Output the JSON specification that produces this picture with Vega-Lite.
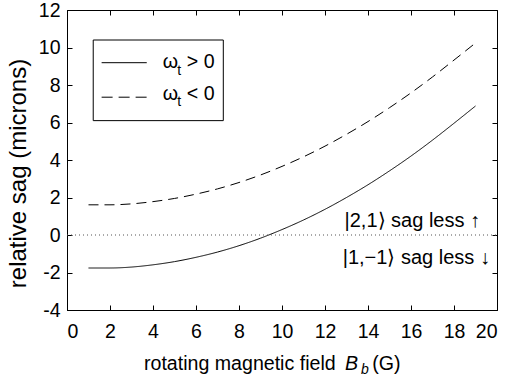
{
  "$schema": "https://vega.github.io/schema/vega-lite/v6.json",
  "width": 430,
  "height": 300,
  "autosize": "none",
  "padding": {"left": 67, "top": 10, "right": 11, "bottom": 72},
  "background": "white",
  "config": {
    "font": "Liberation Sans",
    "view": {"stroke": "black", "strokeWidth": 1},
    "axis": {
      "domainColor": "black",
      "tickColor": "black",
      "tickSize": -5,
      "labelColor": "black",
      "labelFont": "Liberation Sans",
      "labelFontSize": 19.5,
      "titleFont": "Liberation Sans",
      "titleFontSize": 24,
      "titleFontWeight": "normal",
      "titleColor": "black",
      "grid": false,
      "labelExpr": "'' + datum.value"
    },
    "text": {"font": "Liberation Sans", "fontSize": 19.6, "color": "black"}
  },
  "data": {
    "values": [
      {"B": 1, "sag": -1.76, "series": "ω_t > 0"},
      {"B": 2, "sag": -1.76, "series": "ω_t > 0"},
      {"B": 3, "sag": -1.71, "series": "ω_t > 0"},
      {"B": 4, "sag": -1.59, "series": "ω_t > 0"},
      {"B": 5, "sag": -1.42, "series": "ω_t > 0"},
      {"B": 6, "sag": -1.19, "series": "ω_t > 0"},
      {"B": 7, "sag": -0.91, "series": "ω_t > 0"},
      {"B": 8, "sag": -0.57, "series": "ω_t > 0"},
      {"B": 9, "sag": -0.17, "series": "ω_t > 0"},
      {"B": 10, "sag": 0.29, "series": "ω_t > 0"},
      {"B": 11, "sag": 0.8, "series": "ω_t > 0"},
      {"B": 12, "sag": 1.37, "series": "ω_t > 0"},
      {"B": 13, "sag": 2.0, "series": "ω_t > 0"},
      {"B": 14, "sag": 2.68, "series": "ω_t > 0"},
      {"B": 15, "sag": 3.42, "series": "ω_t > 0"},
      {"B": 16, "sag": 4.21, "series": "ω_t > 0"},
      {"B": 17, "sag": 5.06, "series": "ω_t > 0"},
      {"B": 18, "sag": 5.96, "series": "ω_t > 0"},
      {"B": 19, "sag": 6.88, "series": "ω_t > 0"},
      {"B": 1, "sag": 1.61, "series": "ω_t < 0"},
      {"B": 2, "sag": 1.61, "series": "ω_t < 0"},
      {"B": 3, "sag": 1.66, "series": "ω_t < 0"},
      {"B": 4, "sag": 1.78, "series": "ω_t < 0"},
      {"B": 5, "sag": 1.95, "series": "ω_t < 0"},
      {"B": 6, "sag": 2.18, "series": "ω_t < 0"},
      {"B": 7, "sag": 2.46, "series": "ω_t < 0"},
      {"B": 8, "sag": 2.8, "series": "ω_t < 0"},
      {"B": 9, "sag": 3.2, "series": "ω_t < 0"},
      {"B": 10, "sag": 3.66, "series": "ω_t < 0"},
      {"B": 11, "sag": 4.17, "series": "ω_t < 0"},
      {"B": 12, "sag": 4.74, "series": "ω_t < 0"},
      {"B": 13, "sag": 5.37, "series": "ω_t < 0"},
      {"B": 14, "sag": 6.05, "series": "ω_t < 0"},
      {"B": 15, "sag": 6.79, "series": "ω_t < 0"},
      {"B": 16, "sag": 7.58, "series": "ω_t < 0"},
      {"B": 17, "sag": 8.43, "series": "ω_t < 0"},
      {"B": 18, "sag": 9.33, "series": "ω_t < 0"},
      {"B": 19, "sag": 10.24, "series": "ω_t < 0"}
    ]
  },
  "layer": [
    {
      "mark": {"type": "line", "interpolate": "monotone", "color": "black", "strokeWidth": 1},
      "encoding": {
        "x": {"field": "B", "type": "quantitative", "scale": {"domain": [0, 20], "nice": false},
              "axis": {"orient": "bottom", "values": [0,2,4,6,8,10,12,14,16,18,20], "title": null, "labelPadding": 17}},
        "y": {"field": "sag", "type": "quantitative", "scale": {"domain": [-4, 12], "nice": false},
              "axis": {"orient": "left", "values": [-4,-2,0,2,4,6,8,10,12], "title": "relative sag (microns)", "labelPadding": 12,
                       "titleX": -42, "titleY": 163, "titleBaseline": "alphabetic", "titleAlign": "center", "titleAngle": -90}},
        "strokeDash": {"field": "series", "type": "nominal", "legend": null,
              "scale": {"domain": ["ω_t > 0", "ω_t < 0"], "range": [[1, 0], [10, 6]]}},
        "detail": {"field": "series"}
      }
    },
    {
      "data": {"values": [{}]},
      "mark": {"type": "rule", "color": "#555", "strokeDash": [1, 3], "strokeWidth": 1},
      "encoding": {
        "x": {"datum": 0, "type": "quantitative", "axis": {"orient": "top", "values": [0,2,4,6,8,10,12,14,16,18,20], "labels": false, "title": null, "domain": false}},
        "x2": {"datum": 20},
        "y": {"datum": 0, "type": "quantitative", "axis": {"orient": "right", "values": [-4,-2,0,2,4,6,8,10,12], "labels": false, "title": null, "domain": false}}
      }
    },
    {
      "data": {"values": [{}]},
      "mark": {"type": "rect", "fill": "white", "stroke": "black", "strokeWidth": 1},
      "encoding": {
        "x": {"datum": 1.22, "type": "quantitative", "axis": null},
        "x2": {"datum": 7.27},
        "y": {"datum": 10.4, "type": "quantitative", "axis": null},
        "y2": {"datum": 6.1}
      }
    },
    {
      "data": {"values": [{}]},
      "mark": {"type": "rule", "color": "black", "strokeWidth": 1},
      "encoding": {
        "x": {"datum": 1.61, "type": "quantitative", "axis": null},
        "x2": {"datum": 3.71},
        "y": {"datum": 9.19, "type": "quantitative", "axis": null}
      }
    },
    {
      "data": {"values": [{}]},
      "mark": {"type": "rule", "color": "black", "strokeWidth": 1, "strokeDash": [11, 6]},
      "encoding": {
        "x": {"datum": 1.61, "type": "quantitative", "axis": null},
        "x2": {"datum": 3.71},
        "y": {"datum": 7.35, "type": "quantitative", "axis": null}
      }
    },
    {
      "data": {"values": [{}]},
      "mark": {"type": "text", "align": "left", "baseline": "alphabetic", "text": "ω"},
      "encoding": {"x": {"datum": 4.45, "type": "quantitative", "axis": null}, "y": {"datum": 8.9, "type": "quantitative", "axis": null}}
    },
    {
      "data": {"values": [{}]},
      "mark": {"type": "text", "align": "left", "baseline": "alphabetic", "text": "t", "fontSize": 14},
      "encoding": {"x": {"datum": 5.13, "type": "quantitative", "axis": null}, "y": {"datum": 8.56, "type": "quantitative", "axis": null}}
    },
    {
      "data": {"values": [{}]},
      "mark": {"type": "text", "align": "left", "baseline": "alphabetic", "text": "> 0"},
      "encoding": {"x": {"datum": 5.57, "type": "quantitative", "axis": null}, "y": {"datum": 8.9, "type": "quantitative", "axis": null}}
    },
    {
      "data": {"values": [{}]},
      "mark": {"type": "text", "align": "left", "baseline": "alphabetic", "text": "ω"},
      "encoding": {"x": {"datum": 4.45, "type": "quantitative", "axis": null}, "y": {"datum": 7.21, "type": "quantitative", "axis": null}}
    },
    {
      "data": {"values": [{}]},
      "mark": {"type": "text", "align": "left", "baseline": "alphabetic", "text": "t", "fontSize": 14},
      "encoding": {"x": {"datum": 5.13, "type": "quantitative", "axis": null}, "y": {"datum": 6.88, "type": "quantitative", "axis": null}}
    },
    {
      "data": {"values": [{}]},
      "mark": {"type": "text", "align": "left", "baseline": "alphabetic", "text": "< 0"},
      "encoding": {"x": {"datum": 5.57, "type": "quantitative", "axis": null}, "y": {"datum": 7.21, "type": "quantitative", "axis": null}}
    },
    {
      "data": {"values": [{}]},
      "mark": {"type": "text", "align": "right", "baseline": "alphabetic", "text": "|2,1⟩ sag less ↑", "fontSize": 20},
      "encoding": {"x": {"datum": 19.21, "type": "quantitative", "axis": null}, "y": {"datum": 0.42, "type": "quantitative", "axis": null}}
    },
    {
      "data": {"values": [{}]},
      "mark": {"type": "text", "align": "right", "baseline": "alphabetic", "text": "|1,−1⟩ sag less ↓", "fontSize": 20},
      "encoding": {"x": {"datum": 19.67, "type": "quantitative", "axis": null}, "y": {"datum": -1.53, "type": "quantitative", "axis": null}}
    },
    {
      "data": {"values": [{}]},
      "mark": {"type": "text", "align": "left", "baseline": "alphabetic", "text": "rotating magnetic field"},
      "encoding": {"x": {"datum": 3.58, "type": "quantitative", "axis": null}, "y": {"datum": -7.19, "type": "quantitative", "axis": null}}
    },
    {
      "data": {"values": [{}]},
      "mark": {"type": "text", "align": "left", "baseline": "alphabetic", "text": "B", "fontStyle": "italic"},
      "encoding": {"x": {"datum": 12.93, "type": "quantitative", "axis": null}, "y": {"datum": -7.19, "type": "quantitative", "axis": null}}
    },
    {
      "data": {"values": [{}]},
      "mark": {"type": "text", "align": "left", "baseline": "alphabetic", "text": "b", "fontStyle": "italic", "fontSize": 14},
      "encoding": {"x": {"datum": 13.68, "type": "quantitative", "axis": null}, "y": {"datum": -7.39, "type": "quantitative", "axis": null}}
    },
    {
      "data": {"values": [{}]},
      "mark": {"type": "text", "align": "left", "baseline": "alphabetic", "text": "(G)"},
      "encoding": {"x": {"datum": 14.2, "type": "quantitative", "axis": null}, "y": {"datum": -7.19, "type": "quantitative", "axis": null}}
    }
  ],
  "resolve": {"axis": {"x": "independent", "y": "independent"}}
}
